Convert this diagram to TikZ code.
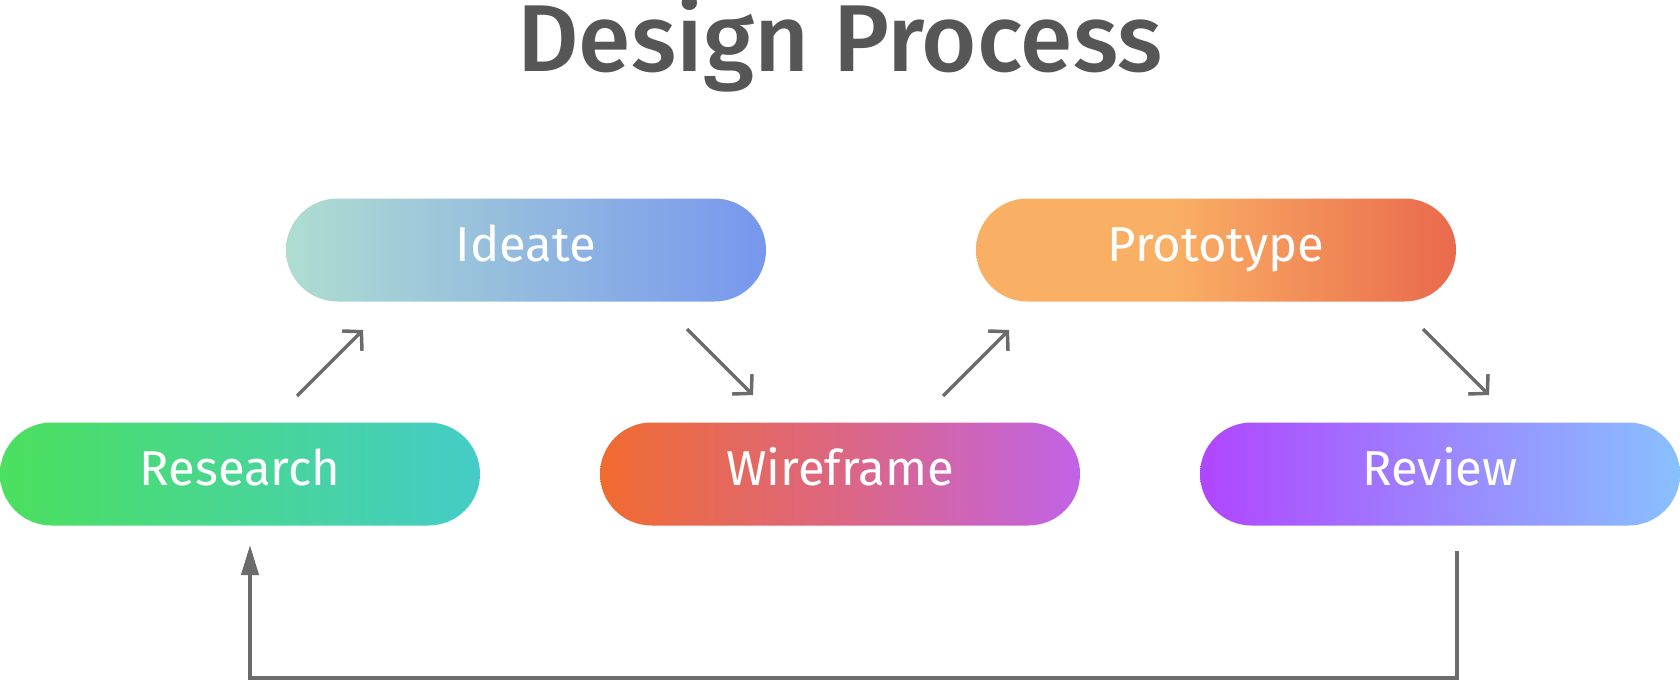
\documentclass[tikz,border=0pt]{standalone}
\usepackage{fontspec}
\setmainfont{Fira Sans}
\newfontfamily\titlefont{Fira Sans Medium}
\usetikzlibrary{arrows.meta}
\definecolor{resA}{HTML}{4BE05E}
\definecolor{resB}{HTML}{45CCC8}
\definecolor{ideA}{HTML}{AEDDD0}
\definecolor{ideB}{HTML}{7797EE}
\definecolor{proA}{HTML}{F9B064}
\definecolor{proB}{HTML}{EA694C}
\definecolor{wirA}{HTML}{F06B30}
\definecolor{wirM}{HTML}{DC6682}
\definecolor{wirB}{HTML}{C163E8}
\definecolor{revA}{HTML}{B045FF}
\definecolor{revM}{HTML}{9C85FF}
\definecolor{revB}{HTML}{88C0FF}
\definecolor{linegray}{HTML}{6B6B6B}
\definecolor{titlegray}{HTML}{565656}
\pgfdeclarehorizontalshading{resshade}{100bp}{color(0bp)=(resA); color(25bp)=(resA); color(75bp)=(resB); color(100bp)=(resB)}
\pgfdeclarehorizontalshading{ideshade}{100bp}{color(0bp)=(ideA); color(25bp)=(ideA); color(75bp)=(ideB); color(100bp)=(ideB)}
\pgfdeclarehorizontalshading{proshade}{100bp}{color(0bp)=(proA); color(25bp)=(proA); color(45bp)=(proA); color(75bp)=(proB); color(100bp)=(proB)}
\pgfdeclarehorizontalshading{wirshade}{100bp}{color(0bp)=(wirA); color(25bp)=(wirA); color(50bp)=(wirM); color(75bp)=(wirB); color(100bp)=(wirB)}
\pgfdeclarehorizontalshading{revshade}{100bp}{color(0bp)=(revA); color(25bp)=(revA); color(50bp)=(revM); color(75bp)=(revB); color(100bp)=(revB)}
\begin{document}
\begin{tikzpicture}[x=1pt,y=-1pt,
  pill/.style={rectangle, rounded corners=51.5pt, minimum width=480pt, minimum height=103pt,
    inner sep=0pt, text=white, text height=22pt, text depth=0pt, font=\fontsize{49}{56}\selectfont},
  diag/.style={draw=linegray, line width=3.5pt, -{Straight Barb[length=13pt,width=28pt]}},
  back/.style={draw=linegray, line width=4pt, -{Triangle[length=30pt,width=17pt]}},
  title/.style={text=titlegray, font=\titlefont\fontsize{95}{100}\selectfont, inner sep=0pt}]
\useasboundingbox (0,0) rectangle (1680,682);
\node[title, anchor=base] (title) at (840,72) {Design Process};
\node[pill, shading=resshade] (research) at (240,474) {Research};
\node[pill, shading=ideshade] (ideate) at (526,250) {Ideate};
\node[pill, shading=wirshade] (wireframe) at (840,474) {Wireframe};
\node[pill, shading=proshade] (prototype) at (1216,250) {Prototype};
\node[pill, shading=revshade] (review) at (1440,474) {Review};
\coordinate (a1s) at (297,396); \coordinate (a1e) at (363,330);
\coordinate (a2s) at (687,329); \coordinate (a2e) at (753,395);
\coordinate (a3s) at (943,396); \coordinate (a3e) at (1009,330);
\coordinate (a4s) at (1423,329); \coordinate (a4e) at (1489,395);
\draw[diag] (a1s) -- (a1e);
\draw[diag] (a2s) -- (a2e);
\draw[diag] (a3s) -- (a3e);
\draw[diag] (a4s) -- (a4e);
\coordinate (ls) at (1457,551);
\coordinate (lc) at (1457,678);
\coordinate (le) at (250,545);
\draw[back] (ls) -- (lc) -| (le);
\end{tikzpicture}
\end{document}
